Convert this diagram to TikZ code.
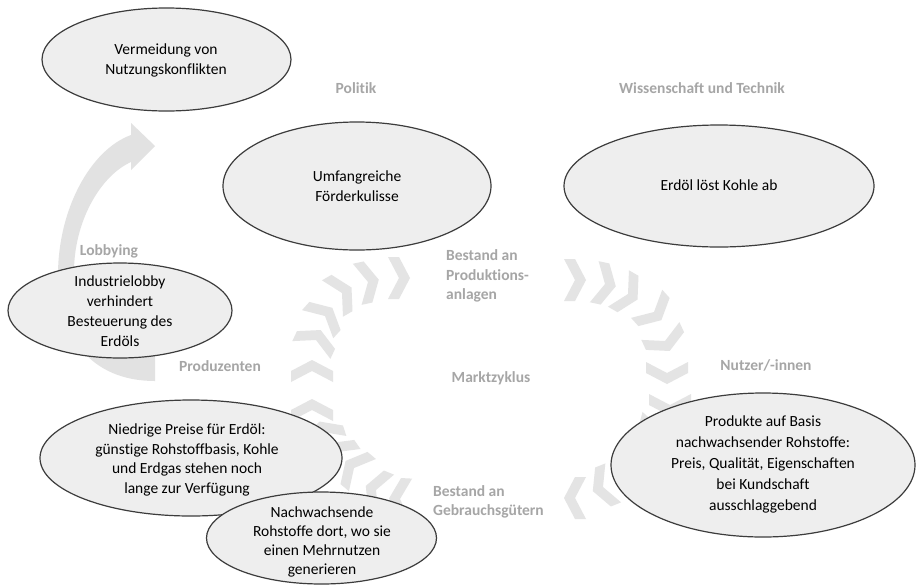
\documentclass[tikz,border=0pt]{standalone}
\usepackage{fontspec}
\setmainfont{Carlito}[Ligatures={NoCommon}]
\usetikzlibrary{shapes.geometric}
\definecolor{chevgray}{RGB}{228,228,228}
\definecolor{arrgray}{RGB}{226,226,226}
\definecolor{ellfill}{RGB}{238,238,238}
\definecolor{elldraw}{RGB}{60,60,60}
\definecolor{labgray}{RGB}{166,166,166}
\begin{document}
\begin{tikzpicture}[x=1pt,y=-1pt,
  chev/.style={fill=chevgray},
  ell/.style={ellipse, draw=elldraw, fill=ellfill, line width=1.2pt, inner sep=0pt},
  etext/.style={align=center, font=\fontsize{15.5}{20}\selectfont, text=black, inner sep=0pt},
  glabel/.style={font=\fontsize{15.5}{19.5}\selectfont\bfseries, text=labgray, inner sep=0pt}]
\useasboundingbox (0,0) rectangle (923,587);
\fill[white] (0,0) rectangle (923,587);

% chevron ring
\foreach \cx/\cy/\ca in {
  399/278/0, 368/282/-12, 342/293/-30, 325/316/-48, 316/340/-65, 312/371/-90, 312/410/-90,
  323/432/-108, 337/452/-125, 354/468/-140, 376/490/-158, 400/499/-177,
  575/280/0, 605/284/12, 628/294/30, 654/312/48, 665/341/65, 667/373/90, 670/405/90,
  660/428/105, 646/448/120, 628/467/138, 603/487/158, 575/498/180} {
  \fill[chev, shift={(\cx,\cy)}, rotate={-1*(\ca)}]
    (-11,-21) -- (0,-21) -- (11,0) -- (0,21) -- (-11,21) -- (0,0) -- cycle;
}

% curved arrow
\fill[arrgray] (155,381) .. controls (90,381) and (58,335) .. (58,275)
  .. controls (58,210) and (90,150) .. (131,135) -- (131,123) -- (155,146)
  -- (131,170) -- (131,162) .. controls (100,176) and (74,222) .. (74,272)
  .. controls (74,318) and (105,348) .. (155,350) -- cycle;

% ellipses
\node[ell, minimum width=249, minimum height=103] (verm) at (166.5,59.5) {};
\node[ell, minimum width=268, minimum height=128] (foerder) at (357,186) {};
\node[ell, minimum width=310, minimum height=122] (erdoel) at (719,186) {};
\node[ell, minimum width=224, minimum height=95] (lobby) at (120,310.5) {};
\node[ell, minimum width=302, minimum height=116] (preise) at (191,458) {};
\node[ell, minimum width=230, minimum height=92] (nachw) at (321.5,538) {};
\node[ell, minimum width=304, minimum height=144] (produkte) at (763,465) {};

% ellipse texts
\node[etext] (vermT) at (166,60.5) {Vermeidung von\\Nutzungskonflikten};
\node[etext] (foerderT) at (357,186.5) {Umfangreiche\\Förderkulisse};
\node[etext] (erdoelT) at (719,185) {Erdöl löst Kohle ab};
\node[etext] (lobbyT) at (120,311) {Industrielobby\\verhindert\\Besteuerung des\\Erdöls};
\node[etext, font=\fontsize{15.5}{19.5}\selectfont] (preiseT) at (187,460) {Niedrige Preise für Erdöl:\\günstige Rohstoffbasis, Kohle\\und Erdgas stehen noch\\lange zur Verfügung};
\node[etext, font=\fontsize{15.5}{19.2}\selectfont] (nachwT) at (322,542) {Nachwachsende\\Rohstoffe dort, wo sie\\einen Mehrnutzen\\generieren};
\node[etext, font=\fontsize{15.5}{21}\selectfont] (produkteT) at (763,464) {Produkte auf Basis\\nachwachsender Rohstoffe:\\Preis, Qualität, Eigenschaften\\bei Kundschaft\\ausschlaggebend};

% gray labels
\node[glabel] (politik) at (356,88) {Politik};
\node[glabel] (wiss) at (702,88) {Wissenschaft und Technik};
\node[glabel] (lobbying) at (109,251) {Lobbying};
\node[glabel, align=left, anchor=west] (bestandP) at (446,276) {Bestand an\\Produktions-\\anlagen};
\node[glabel] (produzenten) at (220,366) {Produzenten};
\node[glabel] (markt) at (491,378) {Marktzyklus};
\node[glabel] (nutzer) at (766,365) {Nutzer/-innen};
\node[glabel, align=left, anchor=west] (bestandG) at (433,502) {Bestand an\\Gebrauchsgütern};
\end{tikzpicture}
\end{document}
